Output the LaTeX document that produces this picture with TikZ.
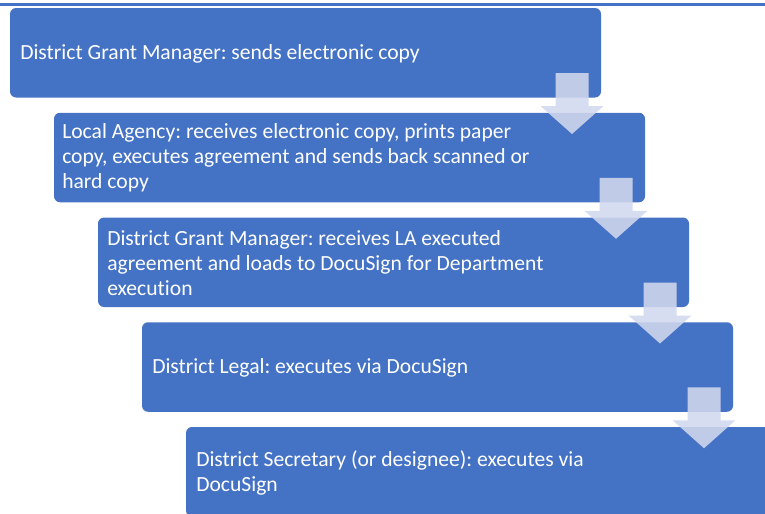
\documentclass[tikz,border=0pt]{standalone}
\usepackage{fontspec}
\setmainfont{Carlito}[Ligatures={NoCommon}]
\definecolor{boxblue}{RGB}{68,114,196}
\definecolor{arrowfill}{RGB}{210,216,238}
\begin{document}
\frenchspacing
\begin{tikzpicture}[x=0.75pt,y=-0.75pt,
  stepbox/.style={fill=boxblue, draw=none, rounded corners=4.5pt},
  steptext/.style={anchor=west, text=white, align=left, font=\fontsize{16.2pt}{18.8pt}\selectfont\frenchspacing, inner sep=0pt},
  downarrow/.style={fill=arrowfill, fill opacity=0.88, draw=none}]
\useasboundingbox (0,0) rectangle (765,514);
\begin{scope}
\clip (0,0) rectangle (765,514);
% top underline fragment
\fill[boxblue] (0,3) rectangle (765,6);
% boxes
\foreach \i in {0,...,4}{
  \pgfmathsetmacro{\L}{10+44*\i}
  \pgfmathsetmacro{\T}{8+104.75*\i}
  \fill[stepbox] (\L,\T) rectangle ++(591,89.5);
  \coordinate (b\i) at (\L+10,\T+46);
}
\node[steptext] (t0) at (b0) {District Grant Manager: sends electronic copy};
\node[steptext] (t1) at ([xshift=-1.5pt,yshift=0.6pt]b1) {Local Agency: receives electronic copy, prints paper\\copy, executes agreement and sends back scanned or\\hard copy};
\node[steptext] (t2) at ([xshift=-0.75pt,yshift=0.6pt]b2) {District Grant Manager: receives LA executed\\agreement and loads to DocuSign for Department\\execution};
\node[steptext] (t3) at (b3) {District Legal: executes via DocuSign};
\node[steptext] (t4) at (b4) {District Secretary (or designee): executes via\\DocuSign};
% arrows
\foreach \i in {0,...,3}{
  \pgfmathsetmacro{\C}{572+44*\i}
  \pgfmathsetmacro{\B}{97.5+104.75*\i}
  \fill[downarrow] (\C-16.5,\B-24.5) -- (\C+16.5,\B-24.5) -- (\C+16.5,\B+8.5)
     -- (\C+31.5,\B+8.5) -- (\C,\B+36.5) -- (\C-31.5,\B+8.5) -- (\C-16.5,\B+8.5) -- cycle;
}
\end{scope}
\end{tikzpicture}
\end{document}
